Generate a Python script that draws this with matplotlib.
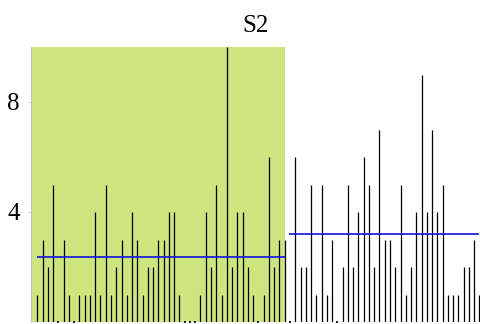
import numpy as np
import matplotlib
matplotlib.use("Agg")
import matplotlib.pyplot as plt

# counts for the two halves of the series
first_half = [1, 3, 2, 5, 0, 3, 1, 0, 1, 1, 1, 4, 1, 5, 1, 2, 3, 1, 4, 3, 1, 2, 2, 3,
              3, 4, 4, 1, 0, 0, 0, 1, 4, 2, 5, 1, 10, 2, 4, 4, 2, 1, 0, 1, 6, 2, 3, 3]
second_half = [0, 6, 2, 2, 5, 1, 5, 1, 3, 0, 2, 5, 2, 4, 6, 5, 2, 7, 3, 3, 2, 5, 1, 2,
               4, 9, 4, 7, 4, 5, 1, 1, 1, 2, 2, 3, 1]
title = "S2"
yticks = [4, 8]

values = np.array(first_half + second_half)
x = np.arange(len(values))
n1 = len(first_half)

plt.rcParams['font.family'] = ['Liberation Serif', 'DejaVu Serif']

fig = plt.figure(figsize=(4.8, 3.24), dpi=100)
ax = fig.add_axes([31 / 480, 2 / 324, 449 / 480, 275 / 324])

ax.set_xlim(-1.2, 84.1)
ax.set_ylim(0, 10)

# shaded first half
ax.axvspan(-1.2, n1 - 1, color='#cde57f', lw=0, zorder=0)

nz = values > 0
ax.vlines(x[nz], 0, values[nz], color='black', lw=0.9, zorder=2)
ax.plot(x[~nz], values[~nz], ls='none', marker='s', ms=1.8, mew=0,
        color='#222222', zorder=2, clip_on=False)

# mean of each half
ax.hlines(np.mean(first_half), 0, n1 - 1, color='#1010e0', lw=1.2, zorder=3)
ax.hlines(np.mean(second_half), n1 - 0.2, len(values) - 1, color='#1010e0',
          lw=1.2, zorder=3)

for side in ['top', 'right', 'bottom']:
    ax.spines[side].set_visible(False)
ax.spines['left'].set_color('#bbbbbb')
ax.spines['left'].set_linewidth(0.6)

ax.set_xticks([])
ax.set_yticks(yticks)
ax.tick_params(axis='y', length=2, width=0.6, color='#bbbbbb', labelsize=18, pad=6)
ax.set_title(title, fontsize=18, pad=11)

plt.savefig('out.png', dpi=100)
